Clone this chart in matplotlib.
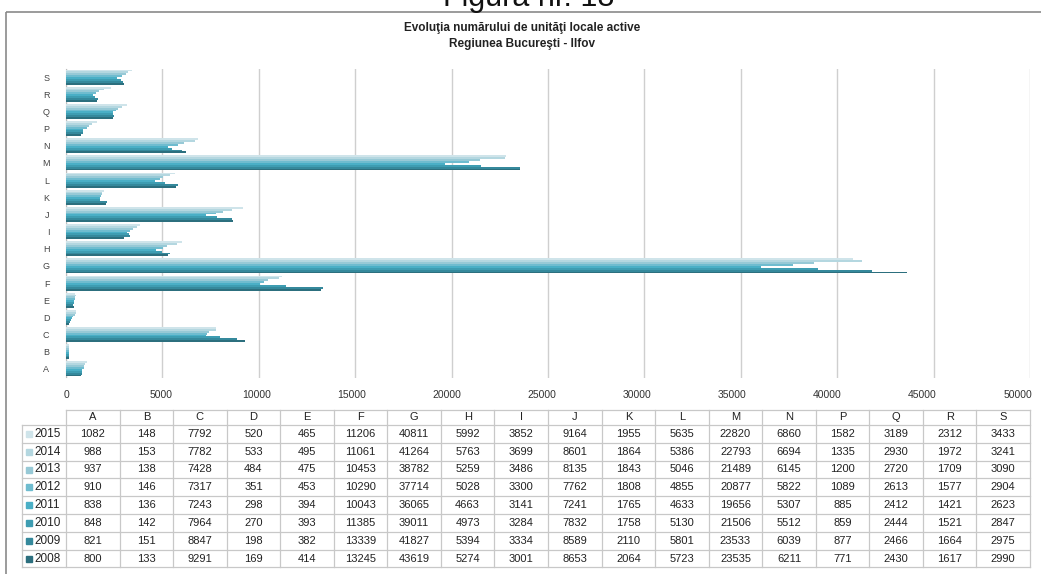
import numpy as np
import matplotlib
matplotlib.use("Agg")
import matplotlib.pyplot as plt
from matplotlib.patches import Rectangle
from matplotlib.transforms import ScaledTranslation

# Data
categories = ["A", "B", "C", "D", "E", "F", "G", "H", "I", "J",
              "K", "L", "M", "N", "P", "Q", "R", "S"]
years = ["2015", "2014", "2013", "2012", "2011", "2010", "2009", "2008"]

v2015 = [1082, 148, 7792, 520, 465, 11206, 40811, 5992, 3852, 9164, 1955, 5635, 22820, 6860, 1582, 3189, 2312, 3433]
v2014 = [988, 153, 7782, 533, 495, 11061, 41264, 5763, 3699, 8601, 1864, 5386, 22793, 6694, 1335, 2930, 1972, 3241]
v2013 = [937, 138, 7428, 484, 475, 10453, 38782, 5259, 3486, 8135, 1843, 5046, 21489, 6145, 1200, 2720, 1709, 3090]
v2012 = [910, 146, 7317, 351, 453, 10290, 37714, 5028, 3300, 7762, 1808, 4855, 20877, 5822, 1089, 2613, 1577, 2904]
v2011 = [838, 136, 7243, 298, 394, 10043, 36065, 4663, 3141, 7241, 1765, 4633, 19656, 5307, 885, 2412, 1421, 2623]
v2010 = [848, 142, 7964, 270, 393, 11385, 39011, 4973, 3284, 7832, 1758, 5130, 21506, 5512, 859, 2444, 1521, 2847]
v2009 = [821, 151, 8847, 198, 382, 13339, 41827, 5394, 3334, 8589, 2110, 5801, 23533, 6039, 877, 2466, 1664, 2975]
v2008 = [800, 133, 9291, 169, 414, 13245, 43619, 5274, 3001, 8653, 2064, 5723, 23535, 6211, 771, 2430, 1617, 2990]

series = [v2015, v2014, v2013, v2012, v2011, v2010, v2009, v2008]
colors = ["#cfe4ea", "#b4d7e0", "#97c9d6", "#6fbccf", "#4aafc6", "#3e9db2", "#35899c", "#2c6f7e"]

fonts = ["Liberation Sans Narrow", "Liberation Sans", "DejaVu Sans"]
plt.rcParams["font.family"] = fonts

W, H = 1041, 574
fig = plt.figure(figsize=(W / 100, H / 100), dpi=100)

# overlay axes in pixel coords for frame, title, table
ov = fig.add_axes([0, 0, 1, 1], zorder=-1)
ov.set_xlim(0, W)
ov.set_ylim(H, 0)
ov.axis("off")

ov.add_patch(Rectangle((6, 12), W + 10, H, fill=False, edgecolor="#8a8a8a", lw=1.2))
ov.text(529, 6, "Figura nr. 18", ha="center", va="baseline", fontsize=22,
        family=["Liberation Sans", "DejaVu Sans"], color="#111111")
ov.text(522, 28, "Evoluţia numărului de unităţi locale active", ha="center", va="center",
        fontsize=8.5, fontweight="bold", color="#222222")
ov.text(522, 44, "Regiunea Bucureşti - Ilfov", ha="center", va="center",
        fontsize=8.5, fontweight="bold", color="#222222")

# bar chart
x0, x1 = 66, 1030
y_top, y_bot = 68.5, 377.5
ax = fig.add_axes([x0 / W, 1 - y_bot / H, (x1 - x0) / W, (y_bot - y_top) / H])
n = len(series)
group = 0.88
h = group / n
ypos = np.arange(len(categories))
for i, (vals, c) in enumerate(zip(series, colors)):
    off = group / 2 - (i + 0.5) * h
    ax.barh(ypos + off, vals, height=h, color=c, edgecolor="none", zorder=3)

ax.set_xlim(0, 50000)
ax.set_ylim(-0.5, len(categories) - 0.5)
ax.set_yticks(ypos)
ax.set_yticklabels(categories, fontsize=6.5, color="#444444",
                   family=["Liberation Sans", "DejaVu Sans"])
ax.set_xticks(np.arange(0, 50001, 5000))
ax.tick_params(axis="x", labelsize=7.5, colors="#333333", length=0, pad=9)
ax.tick_params(axis="y", length=0, pad=12)
ax.grid(axis="x", color="#cfcfcf", lw=1, zorder=0)
for s in ["top", "right", "bottom"]:
    ax.spines[s].set_visible(False)
ax.spines["left"].set_color("#bdbdbd")
# labels sit slightly left of their gridlines, more so towards the right
xl = ax.get_xticklabels()
for k, lab in enumerate(xl):
    dx = -0.9 * k / 72
    lab.set_transform(lab.get_transform() + ScaledTranslation(dx, 0, fig.dpi_scale_trans))

# data table
t_left, t_lab = 22, 66
t_top, head_h, row_h = 410, 15, 17.8
col_w = (x1 - x0) / len(categories)
t_bot = t_top + head_h + row_h * n
line_kw = dict(color="#c8c8c8", lw=0.9)
tfam = ["Liberation Sans", "DejaVu Sans"]

# horizontal lines
ov.plot([t_lab, x1], [t_top, t_top], **line_kw)
for r in range(n + 1):
    yy = t_top + head_h + r * row_h
    ov.plot([t_left, x1], [yy, yy], **line_kw)
# vertical lines
ov.plot([t_left, t_left], [t_top + head_h, t_bot], **line_kw)
for j in range(len(categories) + 1):
    xx = t_lab + j * col_w
    ov.plot([xx, xx], [t_top, t_bot], **line_kw)

for j, cat in enumerate(categories):
    ov.text(t_lab + (j + 0.5) * col_w, t_top + head_h / 2, cat, ha="center", va="center",
            fontsize=8, family=tfam, color="#222222")
for r, (yr, vals, c) in enumerate(zip(years, series, colors)):
    yc = t_top + head_h + (r + 0.5) * row_h
    ov.add_patch(Rectangle((t_left + 4, yc - 3), 6, 6, color=c))
    ov.text(t_left + 12, yc, yr, ha="left", va="center", fontsize=8.5, family=tfam, color="#222222")
    for j, v in enumerate(vals):
        ov.text(t_lab + (j + 0.5) * col_w, yc, str(v), ha="center", va="center",
                fontsize=8, family=tfam, color="#222222")

fig.savefig("out.png", dpi=100)
